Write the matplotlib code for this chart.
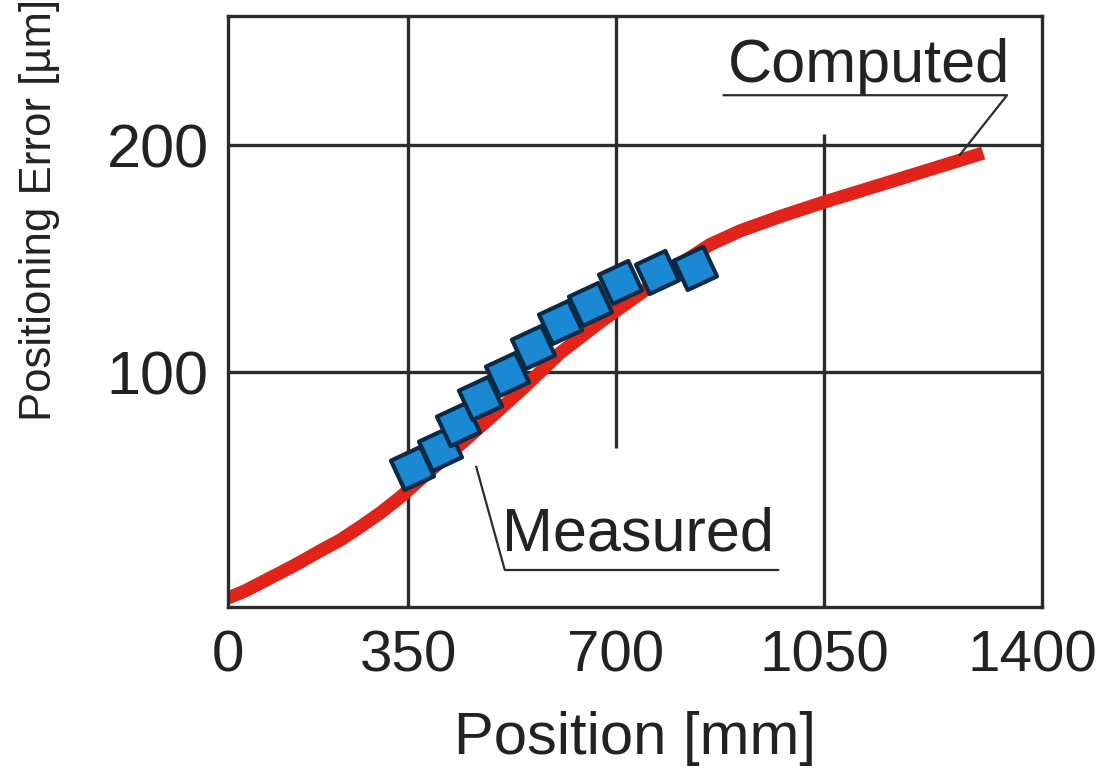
import matplotlib
matplotlib.use("Agg")
import matplotlib.pyplot as plt
from matplotlib.markers import MarkerStyle

plt.rcParams['font.family'] = ['Liberation Sans', 'DejaVu Sans']

# Computed curve (red)
computed_x = [47, 76, 118, 160, 202, 236, 269, 303, 337, 404, 471, 538, 606, 673, 740, 808, 858, 909, 976, 1048, 1161, 1318]
computed_y = [0.5, 3.6, 9.3, 15.0, 21.2, 26.0, 31.7, 37.9, 44.9, 60.4, 75.8, 91.5, 108.5, 122.0, 134.5, 147.7, 156.2, 162.3, 168.6, 174.8, 183.9, 196.6]

# Measured points (blue squares)
measured_x = [357, 404, 434, 471, 516, 560, 606, 656, 707, 769, 833]
measured_y = [57.7, 66, 77, 88.5, 99, 111, 122, 130, 139.6, 144, 146]

x_ticks = [47, 350, 700, 1050, 1400]
x_ticklabels = ["0", "350", "700", "1050", "1400"]
y_ticks = [100, 200]
y_ticklabels = ["100", "200"]

LINE = "#2b2b2b"
TEXT = "#222222"

fig = plt.figure(figsize=(11.02, 7.82), dpi=100)
ax = fig.add_axes([0.2069, 0.2238, 0.7387, 0.7557])
ax.set_xlim(47, 1417)
ax.set_ylim(-3.5, 257)

# grid lines (partial, as in the original)
ax.axvline(350, color=LINE, lw=2.4, zorder=1)
ax.vlines(700, 66.5, 257, color=LINE, lw=2.4, zorder=1)
ax.vlines(1050, -3.5, 205, color=LINE, lw=2.4, zorder=1)
ax.axhline(100, color=LINE, lw=2.4, zorder=1)
ax.axhline(200, color=LINE, lw=2.4, zorder=1)

ax.plot(computed_x, computed_y, color="#e2231a", lw=9.5, solid_capstyle="butt",
        solid_joinstyle="round", zorder=2)
ms = MarkerStyle((4, 0, 70), joinstyle="round")
ax.plot(measured_x, measured_y, linestyle="none", marker=ms, markersize=33,
        markerfacecolor="#1a88d2", markeredgecolor="#0b2a45", markeredgewidth=3, zorder=3)

for s in ax.spines.values():
    s.set_color(LINE)
    s.set_linewidth(2.4)

ax.set_xticks(x_ticks)
ax.set_xticklabels(x_ticklabels)
ax.set_yticks(y_ticks)
ax.set_yticklabels(y_ticklabels)
ax.tick_params(length=0, colors=TEXT)
ax.tick_params(axis="x", pad=16, labelsize=42)
ax.tick_params(axis="y", pad=14, labelsize=44)

ax.set_xlabel("Position [mm]", fontsize=43, color=TEXT, labelpad=20)
ax.set_ylabel("Positioning Error [µm]", fontsize=31.5, color=TEXT)
ax.yaxis.label.set_va("center")
ax.yaxis.set_label_coords(-0.232, 0.672)

# annotations
ax.text(0.614, 0.888, "Computed", transform=ax.transAxes, fontsize=44, color=TEXT,
        ha="left", va="baseline")
ax.plot([0.609, 0.957, 0.899], [0.866, 0.866, 0.765], transform=ax.transAxes,
        color=LINE, lw=1.6, clip_on=False, zorder=4)
ax.text(0.337, 0.0964, "Measured", transform=ax.transAxes, fontsize=44, color=TEXT,
        ha="left", va="baseline")
ax.plot([0.305, 0.340, 0.6757], [0.237, 0.0626, 0.0626], transform=ax.transAxes,
        color=LINE, lw=1.6, clip_on=False, zorder=2.5)

fig.savefig("out.png", dpi=100)
